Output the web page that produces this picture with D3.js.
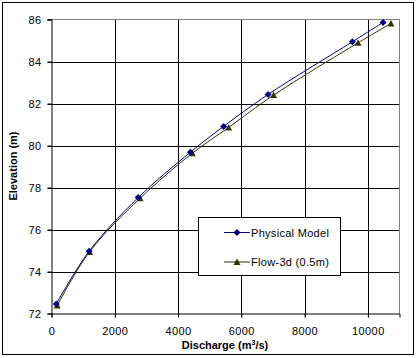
<!DOCTYPE html>
<html><head><meta charset="utf-8">
<script src="https://cdn.jsdelivr.net/npm/d3@7"></script>
<style>
body{margin:0;background:#fff;}
text{font-family:"Liberation Sans",Arial,sans-serif;}
</style></head>
<body><svg id="c" width="417" height="358"></svg>
<script>
const seriesNames = ["Physical Model", "Flow-3d (0.5m)"];
const physQ = [150, 1190, 2740, 4390, 5440, 6845, 9510, 10480];
const physZ = [72.45, 74.97, 77.52, 79.68, 80.91, 82.43, 84.94, 85.86];
const flowQ = [180, 1200, 2800, 4450, 5600, 7020, 9690, 10730];
const flowZ = [72.38, 74.93, 77.49, 79.63, 80.86, 82.40, 84.89, 85.81];
const xTicks = [0, 2000, 4000, 6000, 8000, 10000];
const yTicks = [72, 74, 76, 78, 80, 82, 84, 86];

const svg = d3.select("#c");
const L = 51.5, R = 399.5, T = 19.5, B = 313.5;
const x = d3.scaleLinear().domain([0, 11000]).range([L, R]);
const y = d3.scaleLinear().domain([72, 86]).range([B, T]);

svg.append("rect").attr("x", 2.5).attr("y", 2.5).attr("width", 411).attr("height", 352)
  .attr("fill", "#fff").attr("stroke", "#000");

// gridlines
const g = svg.append("g");
g.selectAll(".vg").data(xTicks.filter(d => d > 0)).enter().append("line")
  .attr("x1", d => Math.round(x(d)) + 0.5).attr("x2", d => Math.round(x(d)) + 0.5)
  .attr("y1", T).attr("y2", B + 4).attr("stroke", "#000");
g.selectAll(".hg").data(yTicks.filter(d => d > 72 && d < 86)).enter().append("line")
  .attr("y1", d => Math.round(y(d)) + 0.5).attr("y2", d => Math.round(y(d)) + 0.5)
  .attr("x1", L - 4).attr("x2", R).attr("stroke", "#000");
g.append("line").attr("x1", L).attr("x2", R).attr("y1", T).attr("y2", T).attr("stroke", "#808080");
g.append("line").attr("x1", R).attr("x2", R).attr("y1", T).attr("y2", B).attr("stroke", "#808080");
g.append("line").attr("x1", L - 4).attr("x2", L).attr("y1", T).attr("y2", T).attr("stroke", "#000");

// axes
const xAxis = d3.axisBottom(x).tickValues(xTicks).tickSize(4).tickPadding(10).tickFormat(d3.format("d"));
const yAxis = d3.axisLeft(y).tickValues(yTicks).tickSize(4).tickPadding(6).tickFormat(d3.format("d"));
const xa = svg.append("g").attr("transform", `translate(0,${B})`).call(xAxis);
const ya = svg.append("g").attr("transform", `translate(${L},0)`).call(yAxis);
[xa, ya].forEach(a => {
  a.select(".domain").attr("stroke", "#000");
  a.selectAll(".tick line").attr("stroke", "#000");
  a.selectAll("text").attr("font-size", 11).attr("fill", "#000")
    .style("font-family", "'Liberation Sans',Arial,sans-serif").style("letter-spacing", "0.4px");
});

// series
const line = d3.line().x(d => x(d[0])).y(d => y(d[1])).curve(d3.curveCatmullRom.alpha(0.5));
const phys = physQ.map((q, i) => [q, physZ[i]]);
const flow = flowQ.map((q, i) => [q, flowZ[i]]);
const physColor = "#000080", flowColor = "#333300";

svg.append("path").datum(flow).attr("d", line).attr("fill", "none").attr("stroke", flowColor).attr("stroke-width", 1);
svg.append("path").datum(phys).attr("d", line).attr("fill", "none").attr("stroke", physColor).attr("stroke-width", 1);

const diamond = "M0,-3.5L3.5,0L0,3.5L-3.5,0Z";
const tri = "M0,-3.5L3.5,3L-3.5,3Z";
svg.selectAll(".fm").data(flow).enter().append("path")
  .attr("d", tri).attr("transform", d => `translate(${x(d[0])},${y(d[1])})`).attr("fill", flowColor);
svg.selectAll(".pm").data(phys).enter().append("path")
  .attr("d", diamond).attr("transform", d => `translate(${x(d[0])},${y(d[1])})`).attr("fill", physColor);

// legend
const lg = svg.append("g");
lg.append("rect").attr("x", 198.5).attr("y", 217.5).attr("width", 142).attr("height", 58)
  .attr("fill", "#fff").attr("stroke", "#000");
const rows = [{name: seriesNames[0], c: physColor, s: diamond, y: 232.5},
              {name: seriesNames[1], c: flowColor, s: tri, y: 262}];
rows.forEach(r => {
  lg.append("line").attr("x1", 224).attr("x2", 250).attr("y1", r.y).attr("y2", r.y).attr("stroke", r.c).attr("stroke-width", 1);
  lg.append("path").attr("d", r.s).attr("transform", `translate(237,${r.y})`).attr("fill", r.c);
  lg.append("text").attr("x", 251).attr("y", r.y + 4).attr("font-size", 11).style("letter-spacing", "0.3px").text(r.name);
});

// axis titles
const xt = svg.append("text").attr("x", 225).attr("y", 349).attr("text-anchor", "middle")
  .attr("font-size", 11).attr("font-weight", "bold");
xt.append("tspan").text("Discharge (m");
xt.append("tspan").attr("dy", -4).attr("font-size", 7).text("3");
xt.append("tspan").attr("dy", 4).text("/s)");
svg.append("text").attr("transform", "translate(17,166) rotate(-90)").attr("text-anchor", "middle")
  .attr("font-size", 11).attr("font-weight", "bold").text("Elevation (m)");
</script></body></html>
